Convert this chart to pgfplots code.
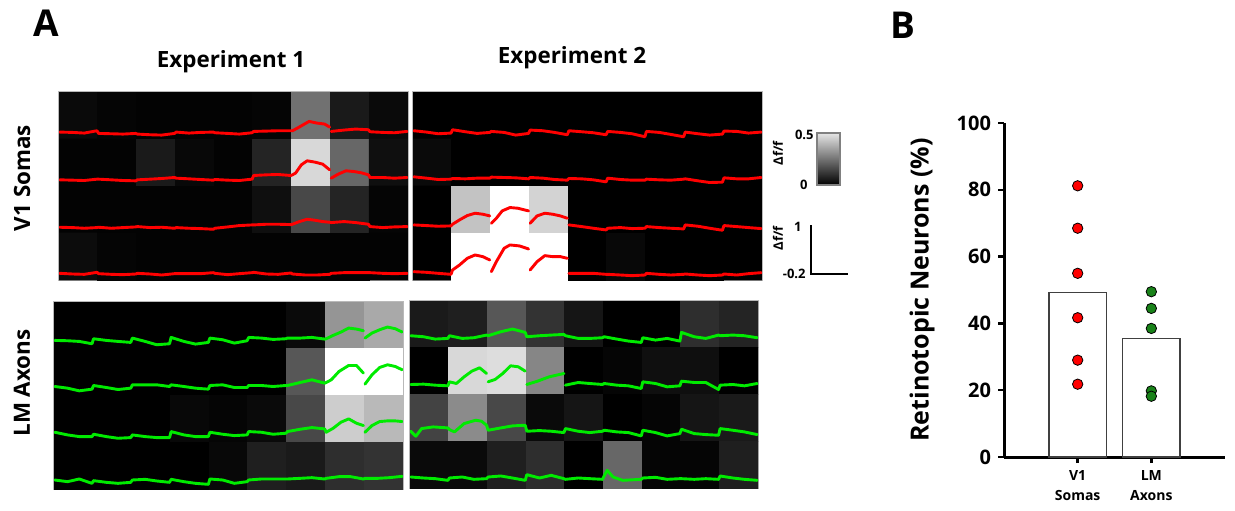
\documentclass[border=0pt]{standalone}
\usepackage{fontspec}
\setmainfont{Open Sans}
\usepackage{pgfplots}
\pgfplotsset{compat=1.18}
\definecolor{tracered}{RGB}{255,0,0}
\definecolor{tracegreen}{RGB}{0,235,0}
\definecolor{dotgreen}{RGB}{25,130,25}
\pgfplotsset{
 heat/.style={anchor=north west, scale only axis, xmin=0, xmax=9, y dir=reverse, ticks=none,
   axis line style={draw=gray!55, line width=0.7pt},
   colormap={bw}{color(0cm)=(black) color(1cm)=(white)},
   point meta min=0, point meta max=0.5, unbounded coords=jump},
 mat/.style={matrix plot*, mesh/cols=9, point meta=explicit},
 rtr/.style={tracered, line width=1.45pt, no marks, line join=round, line cap=round},
 gtr/.style={tracegreen, line width=1.45pt, no marks, line join=round, line cap=round},
}
\begin{document}
\begin{tikzpicture}
\path[use as bounding box] (0,0) rectangle (617.5pt,-255pt);

% ---------------- Experiment 1, V1 somas
\begin{axis}[heat, at={(29.5pt,-46pt)}, width=174.5pt, height=94pt, ymin=22, ymax=585]
\addplot[mat] coordinates {
(0.5,92.4)[0.02] (1.5,92.4)[0.01] (2.5,92.4)[0.006] (3.5,92.4)[0.006] (4.5,92.4)[0.006] (5.5,92.4)[0.01] (6.5,92.4)[0.22] (7.5,92.4)[0.05] (8.5,92.4)[0.02]
(0.5,233.1)[0.006] (1.5,233.1)[0.006] (2.5,233.1)[0.05] (3.5,233.1)[0.016] (4.5,233.1)[0.006] (5.5,233.1)[0.07] (6.5,233.1)[0.42] (7.5,233.1)[0.2] (8.5,233.1)[0.03]
(0.5,373.9)[0.006] (1.5,373.9)[0.006] (2.5,373.9)[0.006] (3.5,373.9)[0.006] (4.5,373.9)[0.006] (5.5,373.9)[0.03] (6.5,373.9)[0.14] (7.5,373.9)[0.07] (8.5,373.9)[0.01]
(0.5,514.6)[0.024] (1.5,514.6)[0.01] (2.5,514.6)[0.006] (3.5,514.6)[0.006] (4.5,514.6)[0.006] (5.5,514.6)[0.006] (6.5,514.6)[0.006] (7.5,514.6)[0.006] (8.5,514.6)[0.006]
};
\addplot[rtr] coordinates {(0.02,142)(0.35,143)(0.65,145)(0.98,138)(1.02,146)(1.35,147)(1.65,148)(1.98,146)(2.02,148)(2.35,150)(2.65,151)(2.98,146)(3.02,142)(3.35,145)(3.65,143)(3.98,142)(4.02,144)(4.35,146)(4.65,148)(4.98,144)(5.02,140)(5.35,139)(5.65,138)(5.98,138)(6.02,138)(6.15,130)(6.3,120)(6.45,110)(6.65,115)(6.85,118)(6.98,127)(7,nan)(7.02,140)(7.35,136)(7.65,133)(7.98,135)(8.02,141)(8.35,143)(8.65,144)(8.98,140)};
\addplot[rtr] coordinates {(0.02,285)(0.35,286)(0.65,287)(0.98,283)(1.02,283)(1.35,285)(1.65,287)(1.98,288)(2.02,285)(2.35,283)(2.65,281)(2.98,278)(3.02,280)(3.35,282)(3.65,284)(3.98,286)(4.02,284)(4.35,286)(4.65,287)(4.98,283)(5.02,272)(5.35,270)(5.65,269)(5.98,272)(6.02,270)(6.1,265)(6.25,240)(6.4,228)(6.6,232)(6.8,238)(6.98,255)(7,nan)(7.02,280)(7.2,268)(7.4,258)(7.6,260)(7.8,264)(7.98,270)(8.02,278)(8.35,278)(8.65,280)(8.98,278)};
\addplot[rtr] coordinates {(0.02,427)(0.35,428)(0.65,430)(0.98,428)(1.02,427)(1.35,430)(1.65,428)(1.98,426)(2.02,425)(2.35,428)(2.65,427)(2.98,430)(3.02,428)(3.35,430)(3.65,431)(3.98,433)(4.02,430)(4.35,426)(4.65,422)(4.98,420)(5.02,420)(5.35,418)(5.65,418)(5.98,419)(6.02,418)(6.2,410)(6.4,403)(6.6,406)(6.8,410)(6.98,412)(7.02,413)(7.35,410)(7.65,413)(7.98,418)(8.02,425)(8.35,428)(8.65,426)(8.98,425)};
\addplot[rtr] coordinates {(0.02,565)(0.35,567)(0.65,568)(0.98,562)(1.02,566)(1.35,568)(1.65,569)(1.98,567)(2.02,565)(2.35,567)(2.65,570)(2.98,566)(3.02,566)(3.35,566)(3.65,566)(3.98,563)(4.02,565)(4.35,569)(4.65,566)(4.98,563)(5.02,562)(5.35,567)(5.65,568)(5.98,564)(6.02,567)(6.35,570)(6.65,570)(6.98,568)(7.02,565)(7.35,563)(7.65,563)(7.98,563)(8.02,563)(8.35,565)(8.65,566)(8.98,565)};
\end{axis}

% ---------------- Experiment 2, V1 somas
\begin{axis}[heat, at={(206.5pt,-46pt)}, width=174.5pt, height=94pt, ymin=22, ymax=585]
\addplot[mat] coordinates {
(0.5,92.4)[0] (1.5,92.4)[0] (2.5,92.4)[0] (3.5,92.4)[0] (4.5,92.4)[0] (5.5,92.4)[0] (6.5,92.4)[0] (7.5,92.4)[0] (8.5,92.4)[0]
(0.5,233.1)[0.02] (1.5,233.1)[0] (2.5,233.1)[0] (3.5,233.1)[0] (4.5,233.1)[0] (5.5,233.1)[0] (6.5,233.1)[0] (7.5,233.1)[0] (8.5,233.1)[0]
(0.5,373.9)[0] (1.5,373.9)[0.38] (2.5,373.9)[0.5] (3.5,373.9)[0.41] (4.5,373.9)[0] (5.5,373.9)[0] (6.5,373.9)[0] (7.5,373.9)[0] (8.5,373.9)[0]
(0.5,514.6)[0] (1.5,514.6)[0.5] (2.5,514.6)[0.5] (3.5,514.6)[0.5] (4.5,514.6)[0] (5.5,514.6)[0.016] (6.5,514.6)[0] (7.5,514.6)[0] (8.5,514.6)[0]
};
\addplot[rtr] coordinates {(0.02,138)(0.35,142)(0.65,147)(0.98,145)(1.02,135)(1.35,141)(1.65,146)(1.98,143)(2.02,140)(2.35,143)(2.65,151)(2.98,146)(3.02,136)(3.35,138)(3.65,143)(3.98,150)(4.02,138)(4.35,141)(4.65,144)(4.98,150)(5.02,140)(5.35,143)(5.65,147)(5.98,156)(6.02,140)(6.35,143)(6.65,149)(6.98,156)(7.02,142)(7.35,147)(7.65,151)(7.98,148)(8.02,139)(8.35,140)(8.65,145)(8.98,142)};
\addplot[rtr] coordinates {(0.02,276)(0.35,280)(0.65,284)(0.98,283)(1.02,281)(1.35,282)(1.65,280)(1.98,280)(2.02,277)(2.35,278)(2.65,279)(2.98,282)(3.02,278)(3.35,280)(3.65,284)(3.98,286)(4.02,281)(4.35,282)(4.65,285)(4.98,291)(5.02,280)(5.35,284)(5.65,286)(5.98,286)(6.02,283)(6.35,285)(6.65,286)(6.98,283)(7.02,282)(7.35,288)(7.65,293)(7.98,292)(8.02,279)(8.35,282)(8.65,282)(8.98,278)};
\addplot[rtr] coordinates {(0.02,420)(0.35,422)(0.65,424)(0.98,423)(1.02,418)(1.2,405)(1.4,392)(1.6,385)(1.8,388)(1.98,393)(2,nan)(2.02,415)(2.15,400)(2.3,378)(2.5,368)(2.7,370)(2.98,378)(3,nan)(3.02,415)(3.2,393)(3.4,385)(3.6,388)(3.8,393)(3.98,400)(4,nan)(4.02,420)(4.35,425)(4.65,430)(4.98,435)(5.02,430)(5.35,428)(5.65,431)(5.98,430)(6.02,425)(6.35,428)(6.65,430)(6.98,432)(7.02,420)(7.35,424)(7.65,430)(7.98,436)(8.02,422)(8.35,425)(8.65,428)(8.98,431)};
\addplot[rtr] coordinates {(0.02,560)(0.35,562)(0.65,565)(0.98,568)(1.02,555)(1.2,540)(1.4,520)(1.6,510)(1.8,515)(1.98,525)(2,nan)(2.02,560)(2.15,530)(2.35,490)(2.5,480)(2.75,483)(2.98,492)(3,nan)(3.02,555)(3.2,530)(3.4,512)(3.6,515)(3.8,515)(3.98,520)(4,nan)(4.02,565)(4.35,565)(4.65,565)(4.98,568)(5.02,568)(5.35,570)(5.65,572)(5.98,570)(6.02,565)(6.35,568)(6.65,570)(6.98,568)(7.02,567)(7.35,570)(7.65,572)(7.98,570)(8.02,567)(8.35,570)(8.65,566)(8.98,563)};
\end{axis}

% ---------------- Experiment 1, LM axons
\begin{axis}[heat, at={(27pt,-151pt)}, width=174.5pt, height=93.5pt, ymin=22, ymax=582]
\addplot[mat] coordinates {
(0.5,92)[0] (1.5,92)[0] (2.5,92)[0] (3.5,92)[0] (4.5,92)[0] (5.5,92)[0] (6.5,92)[0.02] (7.5,92)[0.29] (8.5,92)[0.33]
(0.5,232)[0] (1.5,232)[0] (2.5,232)[0] (3.5,232)[0] (4.5,232)[0] (5.5,232)[0] (6.5,232)[0.17] (7.5,232)[0.5] (8.5,232)[0.5]
(0.5,372)[0] (1.5,372)[0] (2.5,372)[0] (3.5,372)[0.016] (4.5,372)[0.01] (5.5,372)[0.02] (6.5,372)[0.14] (7.5,372)[0.4] (8.5,372)[0.36]
(0.5,512)[0] (1.5,512)[0] (2.5,512)[0] (3.5,512)[0] (4.5,512)[0.016] (5.5,512)[0.06] (6.5,512)[0.05] (7.5,512)[0.09] (8.5,512)[0.1]
};
\addplot[gtr] coordinates {(0.02,137)(0.35,138)(0.65,140)(0.98,147)(1.02,132)(1.35,137)(1.65,140)(1.98,143)(2.02,130)(2.35,140)(2.65,150)(2.98,147)(3.02,128)(3.35,140)(3.65,148)(3.98,143)(4.02,130)(4.35,135)(4.65,145)(4.98,138)(5.02,128)(5.35,130)(5.65,134)(5.98,132)(6.02,130)(6.35,130)(6.65,128)(6.98,133)(7.02,132)(7.2,122)(7.4,112)(7.6,100)(7.8,103)(7.98,108)(8,nan)(8.02,130)(8.2,115)(8.4,105)(8.6,97)(8.8,102)(8.98,112)};
\addplot[gtr] coordinates {(0.02,275)(0.35,280)(0.65,288)(0.98,283)(1.02,272)(1.35,278)(1.65,284)(1.98,280)(2.02,270)(2.35,270)(2.65,270)(2.98,275)(3.02,270)(3.35,275)(3.65,280)(3.98,283)(4.02,272)(4.35,270)(4.65,278)(4.98,278)(5.02,272)(5.35,272)(5.65,275)(5.98,272)(6.02,272)(6.35,263)(6.65,255)(6.98,265)(7.02,263)(7.15,255)(7.35,230)(7.6,212)(7.8,212)(7.98,235)(8,nan)(8.02,268)(8.2,240)(8.4,218)(8.6,210)(8.8,215)(8.98,225)};
\addplot[gtr] coordinates {(0.02,412)(0.35,420)(0.65,425)(0.98,425)(1.02,418)(1.35,425)(1.65,430)(1.98,428)(2.02,420)(2.35,425)(2.65,428)(2.98,428)(3.02,410)(3.35,420)(3.65,425)(3.98,425)(4.02,412)(4.35,418)(4.65,422)(4.98,420)(5.02,410)(5.35,412)(5.65,418)(5.98,415)(6.02,410)(6.35,403)(6.65,398)(6.98,402)(7.02,412)(7.2,400)(7.4,382)(7.6,372)(7.8,385)(7.98,392)(8,nan)(8.02,412)(8.2,392)(8.4,380)(8.6,378)(8.8,378)(8.98,380)};
\addplot[gtr] coordinates {(0.02,555)(0.35,560)(0.65,552)(0.98,565)(1.02,557)(1.35,562)(1.65,565)(1.98,562)(2.02,555)(2.35,553)(2.65,558)(2.98,562)(3.02,553)(3.35,560)(3.65,565)(3.98,568)(4.02,552)(4.35,555)(4.65,565)(4.98,560)(5.02,555)(5.35,552)(5.65,552)(5.98,552)(6.02,552)(6.35,550)(6.65,548)(6.98,552)(7.02,550)(7.35,545)(7.65,545)(7.98,552)(8.02,550)(8.35,550)(8.65,548)(8.98,544)};
\end{axis}

% ---------------- Experiment 2, LM axons
\begin{axis}[heat, at={(205pt,-150.5pt)}, width=174pt, height=93.5pt, ymin=18, ymax=578]
\addplot[mat] coordinates {
(0.5,88)[0.05] (1.5,88)[0.06] (2.5,88)[0.17] (3.5,88)[0.1] (4.5,88)[0.04] (5.5,88)[0] (6.5,88)[0] (7.5,88)[0.09] (8.5,88)[0.07]
(0.5,228)[0] (1.5,228)[0.42] (2.5,228)[0.43] (3.5,228)[0.26] (4.5,228)[0] (5.5,228)[0.01] (6.5,228)[0.03] (7.5,228)[0.03] (8.5,228)[0]
(0.5,368)[0.13] (1.5,368)[0.27] (2.5,368)[0.14] (3.5,368)[0.02] (4.5,368)[0.04] (5.5,368)[0] (6.5,368)[0.01] (7.5,368)[0.04] (8.5,368)[0.05]
(0.5,508)[0.02] (1.5,508)[0.02] (2.5,508)[0.06] (3.5,508)[0.09] (4.5,508)[0] (5.5,508)[0.2] (6.5,508)[0.01] (7.5,508)[0.01] (8.5,508)[0.06]
};
\addplot[gtr] coordinates {(0.02,122)(0.35,125)(0.65,132)(0.98,130)(1.02,122)(1.35,130)(1.65,128)(1.98,120)(2.02,122)(2.35,110)(2.65,102)(2.98,112)(3.02,125)(3.35,122)(3.65,120)(3.98,118)(4.02,122)(4.35,130)(4.65,130)(4.98,128)(5.02,125)(5.35,132)(5.65,138)(5.98,142)(6.02,128)(6.35,135)(6.65,130)(6.98,138)(7.02,112)(7.35,125)(7.65,130)(7.98,120)(8.02,122)(8.35,120)(8.65,122)(8.98,128)};
\addplot[gtr] coordinates {(0.02,268)(0.35,267)(0.65,270)(0.98,272)(1.02,260)(1.2,265)(1.4,245)(1.6,228)(1.8,218)(1.98,235)(2,nan)(2.02,260)(2.2,253)(2.4,235)(2.6,212)(2.8,215)(2.98,228)(3,nan)(3.02,268)(3.3,258)(3.6,245)(3.98,235)(4,nan)(4.02,270)(4.35,262)(4.65,265)(4.98,268)(5.02,265)(5.35,270)(5.65,272)(5.98,280)(6.02,260)(6.35,265)(6.65,275)(6.98,272)(7.02,258)(7.35,262)(7.65,262)(7.98,283)(8.02,270)(8.35,268)(8.65,272)(8.98,265)};
\addplot[gtr] coordinates {(0.02,408)(0.15,423)(0.3,400)(0.6,395)(0.98,398)(1.02,403)(1.15,410)(1.4,385)(1.7,375)(1.85,378)(1.98,390)(2.02,405)(2.35,398)(2.65,392)(2.98,390)(3.02,408)(3.35,406)(3.65,408)(3.98,412)(4.02,400)(4.35,408)(4.65,412)(4.98,408)(5.02,405)(5.35,410)(5.65,412)(5.98,422)(6.02,405)(6.35,412)(6.65,422)(6.98,415)(7.02,402)(7.35,415)(7.65,418)(7.98,420)(8.02,400)(8.35,405)(8.65,410)(8.98,418)};
\addplot[gtr] coordinates {(0.02,545)(0.35,548)(0.65,550)(0.98,555)(1.02,548)(1.35,545)(1.65,552)(1.98,550)(2.02,545)(2.35,542)(2.65,548)(2.98,555)(3.02,538)(3.35,548)(3.65,540)(3.98,550)(4.02,552)(4.35,548)(4.65,550)(4.98,552)(5.02,542)(5.1,525)(5.25,545)(5.5,555)(5.98,552)(6.02,548)(6.35,546)(6.65,552)(6.98,550)(7.02,550)(7.35,552)(7.65,550)(7.98,552)(8.02,542)(8.35,548)(8.65,552)(8.98,555)};
\end{axis}

% ---------------- panel B
\begin{axis}[anchor=south west, at={(502pt,-228.5pt)}, scale only axis, width=110.5pt, height=167pt,
  xmin=0, xmax=3, ymin=0, ymax=100,
  axis x line*=bottom, axis y line*=left,
  axis line style={line width=1.5pt},
  ytick={0,20,40,60,80,100}, xtick={1,2},
  xticklabels={{V1\\Somas},{LM\\Axons}},
  xticklabel style={align=center, font=\bfseries\fontsize{7}{10}\selectfont},
  yticklabel style={font=\bfseries\fontsize{10}{12}\selectfont},
  /pgf/number format/assume math mode=true,
  tick style={black, line width=1.2pt}, tick align=outside, major tick length=3pt,
  ylabel={Retinotopic Neurons (\%)},
  ylabel style={at={(rel axis cs:-0.37,0.5)}, anchor=center, font=\bfseries\fontsize{12.5}{15}\selectfont},
  clip=false]
\addplot[ybar, bar width=0.78, fill=white, draw=black!75, line width=0.8pt] coordinates {(1,49.2) (2,35.5)};
\addplot[only marks, mark=*, mark size=2.6pt, mark options={fill=red, draw=black, line width=0.4pt}] coordinates {(1,81.2)(1,68.5)(1,55)(1,41.7)(1,29)(1,21.8)};
\addplot[only marks, mark=*, mark size=2.6pt, mark options={fill=dotgreen, draw=black, line width=0.4pt}] coordinates {(2,49.5)(2,44.5)(2,38.5)(2,19.8)(2,18.2)};
\end{axis}

% ---------------- labels
\node[font=\bfseries\fontsize{18.5}{20}\selectfont] at (23pt,-11.75pt) {A};
\node[font=\bfseries\fontsize{18.5}{20}\selectfont] at (451.5pt,-12.5pt) {B};
\node[font=\bfseries\fontsize{11.2}{13}\selectfont, anchor=base] at (115.5pt,-33.5pt) {Experiment 1};
\node[font=\bfseries\fontsize{11.2}{13}\selectfont, anchor=base] at (286pt,-31.5pt) {Experiment 2};
\node[font=\bfseries\fontsize{11.2}{13}\selectfont, rotate=90] at (11pt,-89pt) {V1 Somas};
\node[font=\bfseries\fontsize{11.2}{13}\selectfont, rotate=90] at (11pt,-191.5pt) {LM Axons};

% colour scale and trace scale
\shade[bottom color=black, top color=black!10] (408.5pt,-92.5pt) rectangle (420pt,-66.5pt);
\draw[gray, line width=0.6pt] (408.5pt,-92.5pt) rectangle (420pt,-66.5pt);
\node[anchor=east, inner sep=1pt, font=\bfseries\fontsize{6.5}{7}\selectfont] at (408pt,-67.5pt) {0.5};
\node[anchor=east, inner sep=1pt, font=\bfseries\fontsize{6.5}{7}\selectfont] at (405pt,-92.5pt) {0};
\node[rotate=90, font=\bfseries\fontsize{6.5}{7}\selectfont] at (389pt,-76.5pt) {Δf/f};
\draw[line width=0.6pt] (405.5pt,-112.5pt) -- (405.5pt,-137pt) -- (424pt,-137pt);
\node[anchor=east, inner sep=1pt, font=\bfseries\fontsize{6.5}{7}\selectfont] at (402pt,-113.5pt) {1};
\node[anchor=east, inner sep=1pt, font=\bfseries\fontsize{6.5}{7}\selectfont] at (404pt,-137pt) {-0.2};
\node[rotate=90, font=\bfseries\fontsize{6.5}{7}\selectfont] at (389pt,-119pt) {Δf/f};
\end{tikzpicture}
\end{document}
